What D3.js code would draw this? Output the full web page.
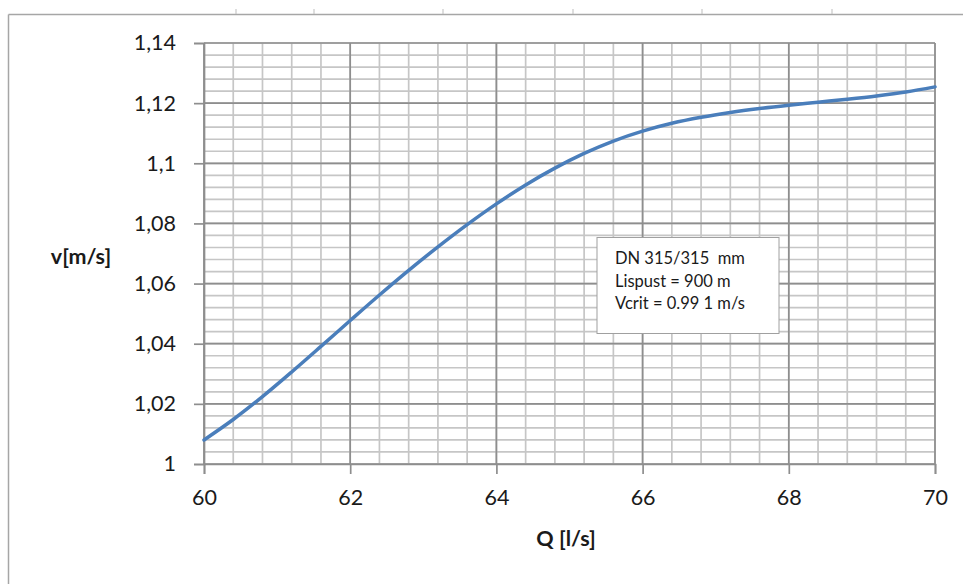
<!DOCTYPE html>
<html>
<head>
<meta charset="utf-8">
<script src="https://cdn.jsdelivr.net/npm/d3@7"></script>
<style>
  html, body { margin: 0; padding: 0; background: #fff; }
  svg { display: block; }
</style>
</head>
<body>
<svg id="chart" width="963" height="584"></svg>
<script>
// Data
const qValues = [60, 60.4, 60.8, 61.2, 61.6, 62, 62.4, 62.8, 63.2, 63.6, 64, 64.4, 64.8,
                 65.2, 65.6, 66, 66.4, 66.8, 67.2, 67.6, 68, 68.4, 68.8, 69.2, 69.6, 70];
const vValues = [1.0080, 1.0148, 1.0224, 1.0306, 1.0391, 1.0477, 1.0562, 1.0644, 1.0722, 1.0796,
                 1.0865, 1.0928, 1.0984, 1.1033, 1.1074, 1.1107, 1.1133, 1.1153, 1.1169, 1.1182,
                 1.1193, 1.1203, 1.1213, 1.1224, 1.1237, 1.1254];
const xTicks = [60, 62, 64, 66, 68, 70];
const yTicks = [1, 1.02, 1.04, 1.06, 1.08, 1.1, 1.12, 1.14];
const yTickLabels = ["1", "1,02", "1,04", "1,06", "1,08", "1,1", "1,12", "1,14"];
const xTitle = "Q [l/s]";
const yTitle = "v[m/s]";
const noteLines = ["DN 315/315  mm", "Lispust = 900 m", "Vcrit = 0.99 1 m/s"];

const svg = d3.select("#chart");
const font = "Lato, 'Open Sans', sans-serif";

// outer frame (spreadsheet chart border)
svg.append("line").attr("x1", 8.5).attr("x2", 963).attr("y1", 14.5).attr("y2", 14.5)
  .attr("stroke", "#a6a6a6").attr("stroke-width", 1.5);
svg.append("line").attr("x1", 8.5).attr("x2", 8.5).attr("y1", 14.5).attr("y2", 584)
  .attr("stroke", "#a6a6a6").attr("stroke-width", 1.5);
[236, 314, 443, 573, 702, 832].forEach(x => {
  svg.append("line").attr("x1", x).attr("x2", x).attr("y1", 9).attr("y2", 14)
    .attr("stroke", "#bdbdbd").attr("stroke-width", 1);
});

const x = d3.scaleLinear().domain([60, 70]).range([204, 935]);
const y = d3.scaleLinear().domain([1, 1.14]).range([464, 43]);

const g = svg.append("g");

// minor grid
const xMinor = d3.range(0, 26).map(i => 60 + i * 0.4);
const yMinor = d3.range(0, 36).map(i => 1 + i * 0.004);
g.selectAll(".vminor").data(xMinor).enter().append("line")
  .attr("x1", d => x(d)).attr("x2", d => x(d)).attr("y1", y(1)).attr("y2", y(1.14))
  .attr("stroke", "#c6c6c6").attr("stroke-width", 1.7);
g.selectAll(".hminor").data(yMinor).enter().append("line")
  .attr("x1", x(60)).attr("x2", x(70)).attr("y1", d => y(d)).attr("y2", d => y(d))
  .attr("stroke", "#c6c6c6").attr("stroke-width", 1.7);

// major grid
g.selectAll(".vmajor").data(xTicks).enter().append("line")
  .attr("x1", d => x(d)).attr("x2", d => x(d)).attr("y1", y(1)).attr("y2", y(1.14))
  .attr("stroke", "#8e8e8e").attr("stroke-width", 1.7);
g.selectAll(".hmajor").data(yTicks).enter().append("line")
  .attr("x1", x(60)).attr("x2", x(70)).attr("y1", d => y(d)).attr("y2", d => y(d))
  .attr("stroke", "#8e8e8e").attr("stroke-width", 1.7);

// axes
const yAxis = d3.axisLeft(y).tickValues(yTicks).tickSize(10).tickPadding(18)
  .tickFormat((d, i) => yTickLabels[i]);
const yg = svg.append("g").attr("transform", `translate(${x(60)},0)`).call(yAxis);
yg.select(".domain").attr("stroke", "#8e8e8e").attr("stroke-width", 1.7);
yg.selectAll(".tick line").attr("stroke", "#8e8e8e").attr("stroke-width", 1.7);
yg.selectAll(".tick text").attr("font-family", font).attr("font-size", 21.5)
  .attr("fill", "#1a1a1a");

const xAxis = d3.axisBottom(x).tickValues(xTicks).tickSize(10).tickPadding(16)
  .tickFormat(d3.format("d"));
const xg = svg.append("g").attr("transform", `translate(0,${y(1)})`).call(xAxis);
xg.select(".domain").attr("stroke", "#8e8e8e").attr("stroke-width", 1.7);
xg.selectAll(".tick line").attr("stroke", "#8e8e8e").attr("stroke-width", 1.7);
xg.selectAll(".tick text").attr("font-family", font).attr("font-size", 21.5)
  .attr("fill", "#1a1a1a");

// curve
const data = qValues.map((q, i) => ({ q, v: vValues[i] }));
const line = d3.line().x(d => x(d.q)).y(d => y(d.v)).curve(d3.curveCatmullRom);
svg.append("path").datum(data).attr("d", line)
  .attr("fill", "none").attr("stroke", "#4a7ebb").attr("stroke-width", 3.5)
  .attr("stroke-linecap", "round");

// titles
svg.append("text").attr("x", 566).attr("y", 546).attr("text-anchor", "middle")
  .attr("font-family", font).attr("font-weight", "bold").attr("font-size", 21.5)
  .attr("fill", "#1a1a1a").text(xTitle);
svg.append("text").attr("x", 81).attr("y", 264).attr("text-anchor", "middle")
  .attr("font-family", font).attr("font-weight", "bold").attr("font-size", 21.5)
  .attr("fill", "#1a1a1a").text(yTitle);

// note box
svg.append("rect").attr("x", 597).attr("y", 237.5).attr("width", 182).attr("height", 96)
  .attr("fill", "#fff").attr("stroke", "#a0a0a0").attr("stroke-width", 1);
svg.append("g").selectAll("text").data(noteLines).enter().append("text")
  .attr("x", 615).attr("y", (d, i) => 264 + i * 22.5)
  .attr("font-family", font).attr("font-size", 16.5).attr("fill", "#1a1a1a")
  .style("white-space", "pre")
  .text(d => d);
</script>
</body>
</html>
